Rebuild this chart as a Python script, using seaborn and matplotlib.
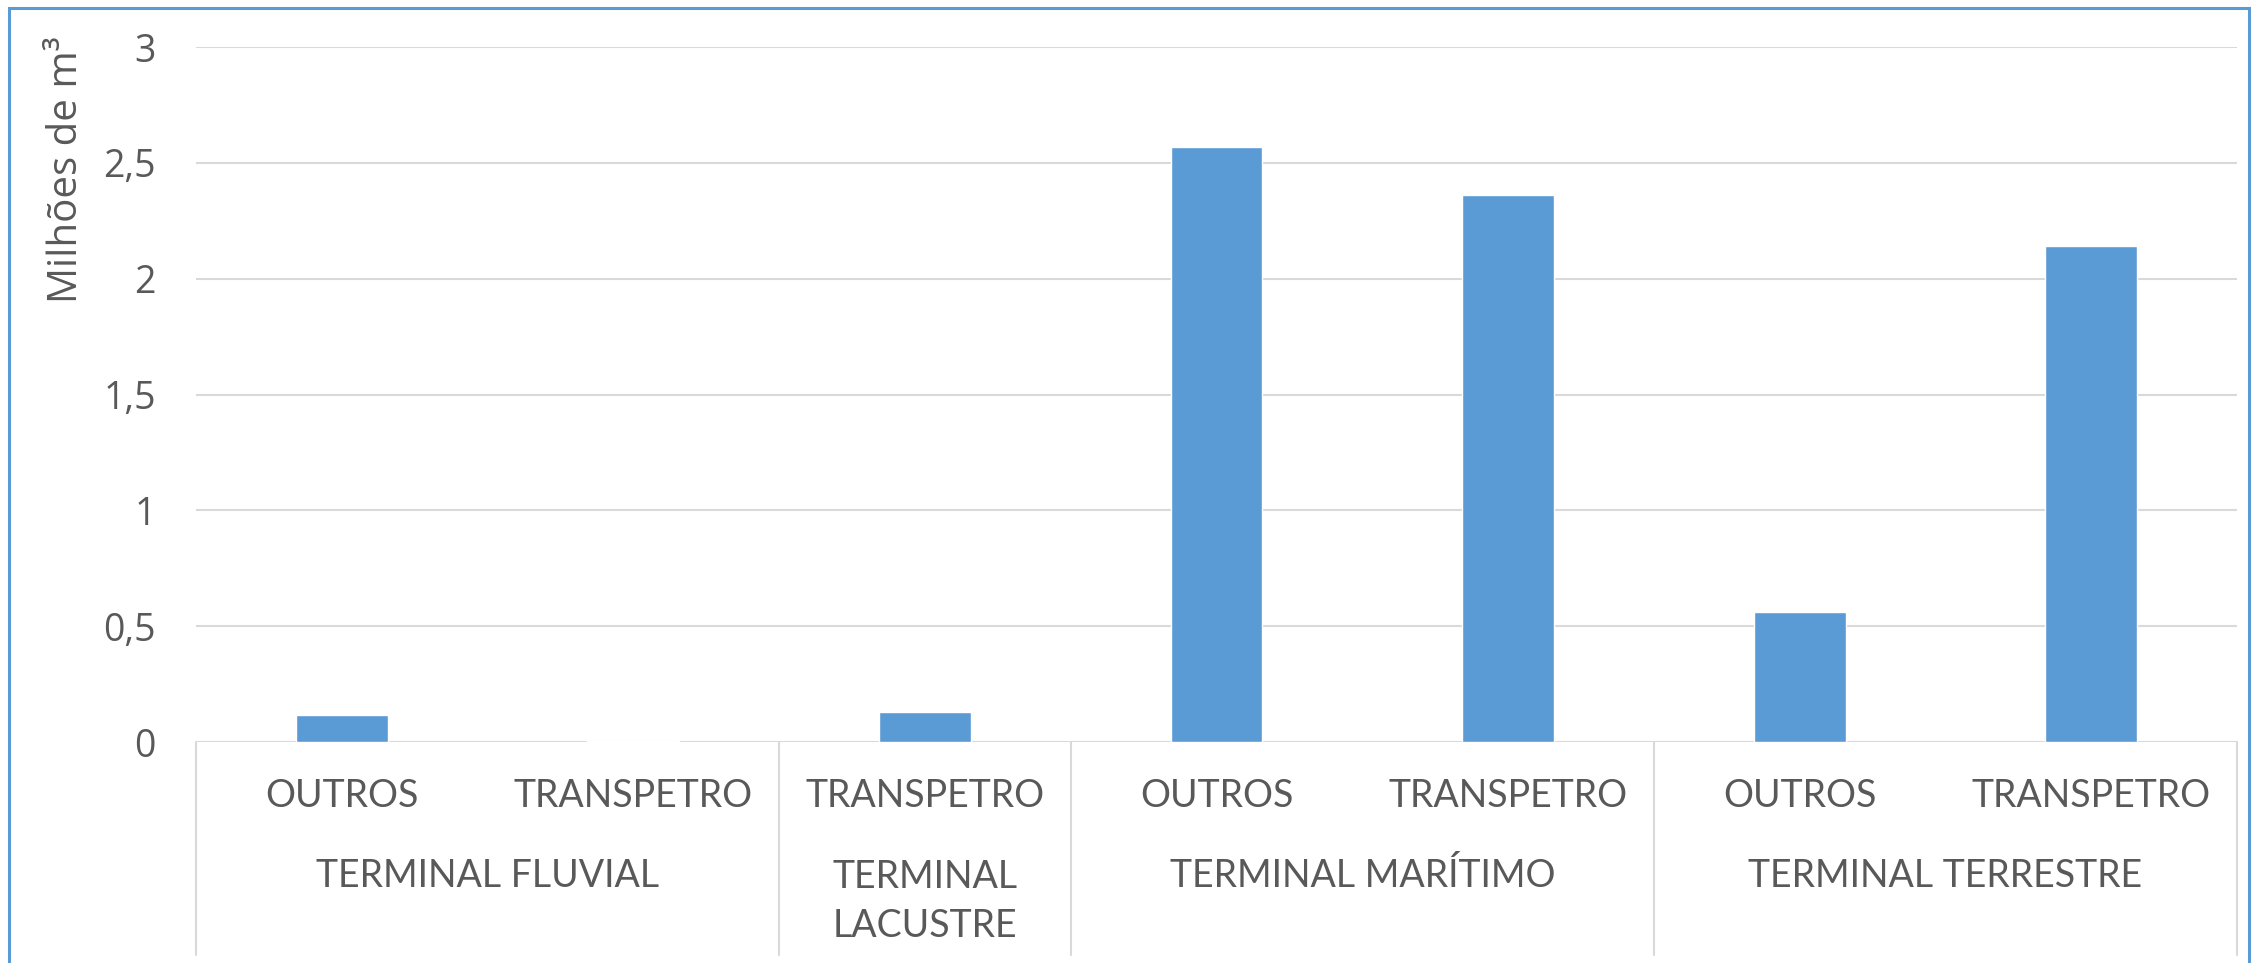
import matplotlib
matplotlib.use("Agg")
import matplotlib.pyplot as plt
import seaborn as sns
import pandas as pd
from matplotlib.patches import Rectangle
from matplotlib.lines import Line2D

# ---- data ----
groups = ["TERMINAL FLUVIAL", "TERMINAL FLUVIAL", "TERMINAL LACUSTRE",
          "TERMINAL MARÍTIMO", "TERMINAL MARÍTIMO",
          "TERMINAL TERRESTRE", "TERMINAL TERRESTRE"]
subcats = ["OUTROS", "TRANSPETRO", "TRANSPETRO", "OUTROS", "TRANSPETRO",
           "OUTROS", "TRANSPETRO"]
values = [0.118, 0.006, 0.13, 2.57, 2.36, 0.56, 2.14]
group_labels = ["TERMINAL FLUVIAL", "TERMINAL\nLACUSTRE", "TERMINAL MARÍTIMO",
                "TERMINAL TERRESTRE"]
group_names = ["TERMINAL FLUVIAL", "TERMINAL LACUSTRE", "TERMINAL MARÍTIMO",
               "TERMINAL TERRESTRE"]
yticks = [0, 0.5, 1, 1.5, 2, 2.5, 3]
ytick_labels = ["0", "0,5", "1", "1,5", "2", "2,5", "3"]
ylabel = "Milhões de m³"

BAR = "#5B9BD5"
GRID = "#D9D9D9"
TXT = "#595959"

df = pd.DataFrame({"grupo": groups, "sub": subcats, "valor": values})
df["key"] = [f"{g}|{s}" for g, s in zip(groups, subcats)]
order = list(df["key"])

sns.set_theme(style="white")
plt.rcParams["font.family"] = ["Open Sans", "DejaVu Sans"]

W, H, DPI = 2253, 963, 100
fig = plt.figure(figsize=(W / DPI, H / DPI), dpi=DPI)
L, R, T, B = 196, 2237, 47, 742
ax = fig.add_axes([L / W, 1 - B / H, (R - L) / W, (B - T) / H])

sns.barplot(data=df, x="key", y="valor", order=order, color=BAR,
            width=0.315, saturation=1, ax=ax, errorbar=None)

ax.set_xlim(-0.5, len(order) - 0.5)
ax.set_ylim(0, 3)
ax.set_yticks(yticks)
ax.set_yticklabels(ytick_labels, fontsize=27, color=TXT, family=["Open Sans", "DejaVu Sans"])
ax.tick_params(axis="y", length=0, pad=29)
ax.set_xticks([])
ax.set_xlabel("")
ax.set_ylabel("")
for s in ax.spines.values():
    s.set_visible(False)
ax.yaxis.grid(True, color=GRID, linewidth=1.5)
ax.set_axisbelow(True)

# y label
fig.text(67 / W, 1 - 170 / H, ylabel, rotation=90, ha="center", va="center",
         fontsize=29, color=TXT, family=["Open Sans", "DejaVu Sans"])

# hierarchical category axis
trans = ax.get_xaxis_transform()
catfont = ["Lato", "DejaVu Sans"]
for i, s in enumerate(subcats):
    ax.text(i, -0.0777, s, transform=trans, ha="center", va="center",
            fontsize=27, color=TXT, family=catfont, clip_on=False)

bottom = -0.3065
bounds = [-0.5]
centers = []
idx = 0
for g in group_names:
    n = groups.count(g)
    centers.append(idx + (n - 1) / 2)
    idx += n
    bounds.append(idx - 0.5)
for c, lab in zip(centers, group_labels):
    yc = -0.193 if "\n" not in lab else -0.230
    ax.text(c, yc, lab, transform=trans, ha="center", va="center",
            fontsize=27, color=TXT, family=catfont, linespacing=1.45,
            clip_on=False)
for b in bounds:
    ax.add_line(Line2D([b, b], [0, bottom], transform=trans, color=GRID,
                       linewidth=1.5, clip_on=False))

# outer border
fig.patches.append(Rectangle((9 / W, -0.02), (2249 - 9) / W, 1 - 8 / H + 0.02,
                             transform=fig.transFigure, fill=False,
                             edgecolor=BAR, linewidth=2.2))

fig.savefig("out.png", dpi=DPI)
